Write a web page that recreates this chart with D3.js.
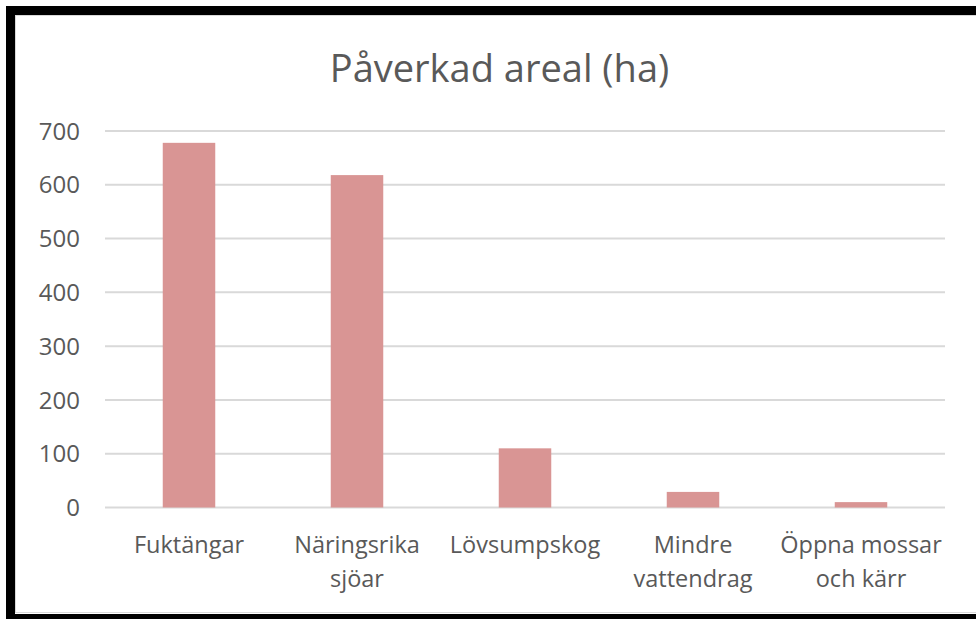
<!DOCTYPE html>
<html>
<head>
<meta charset="utf-8">
<script src="https://cdn.jsdelivr.net/npm/d3@7"></script>
<style>
  body { margin: 0; background: #fff; }
  text { font-family: "Open Sans", "Noto Sans", sans-serif; fill: #595959; }
</style>
</head>
<body>
<div id="chart-area"></div>
<script>
// Data
const categories = [["Fuktängar"], ["Näringsrika", "sjöar"], ["Lövsumpskog"], ["Mindre", "vattendrag"], ["Öppna mossar", "och kärr"]];
const values = [678, 618, 110, 29, 10];
const yTicks = [0, 100, 200, 300, 400, 500, 600, 700];
const title = "Påverkad areal (ha)";

const W = 976, H = 619;
const plot = { left: 105, right: 945, top: 131, bottom: 507.5 };

const svg = d3.select("#chart-area")
  .append("svg")
    .attr("width", W)
    .attr("height", H);

// Frame
svg.append("rect")
  .attr("x", 10.5).attr("y", 10.5)
  .attr("width", 1000).attr("height", 608)
  .attr("fill", "#fff")
  .attr("stroke", "#000")
  .attr("stroke-width", 9);
svg.append("rect")
  .attr("x", 15.5).attr("y", 15.5)
  .attr("width", 1000).attr("height", 597)
  .attr("fill", "none")
  .attr("stroke", "#d9d9d9")
  .attr("stroke-width", 1);

// Scales
const x = d3.scaleBand()
  .domain(categories.map((d, i) => i))
  .range([plot.left, plot.right])
  .paddingInner(0.6875)
  .paddingOuter(0.34375);

const y = d3.scaleLinear()
  .domain([0, 700])
  .range([plot.bottom, plot.top]);

// Gridlines
svg.append("g")
  .selectAll("line")
  .data(yTicks)
  .join("line")
    .attr("x1", plot.left)
    .attr("x2", plot.right)
    .attr("y1", d => y(d))
    .attr("y2", d => y(d))
    .attr("stroke", "#d9d9d9")
    .attr("stroke-width", 2);

// Y labels
svg.append("g")
  .selectAll("text")
  .data(yTicks)
  .join("text")
    .attr("x", 80)
    .attr("y", d => y(d))
    .attr("dy", "0.36em")
    .attr("text-anchor", "end")
    .attr("font-size", "24px")
    .text(d => d);

// Bars
svg.append("g")
  .selectAll("rect")
  .data(values)
  .join("rect")
    .attr("x", (d, i) => x(i))
    .attr("y", d => y(d))
    .attr("width", x.bandwidth())
    .attr("height", d => y(0) - y(d))
    .attr("fill", "#d99594");

// Category labels
const catLabels = svg.append("g")
  .selectAll("text")
  .data(categories)
  .join("text")
    .attr("text-anchor", "middle")
    .attr("font-size", "23.5px")
    .attr("transform", (d, i) => `translate(${x(i) + x.bandwidth() / 2}, 553)`);

catLabels.selectAll("tspan")
  .data(d => d)
  .join("tspan")
    .attr("x", 0)
    .attr("y", (d, j) => j * 34)
    .text(d => d);

// Title
svg.append("text")
  .attr("x", 499.5)
  .attr("y", 82)
  .attr("text-anchor", "middle")
  .attr("font-size", "38px")
  .text(title);
</script>
</body>
</html>
